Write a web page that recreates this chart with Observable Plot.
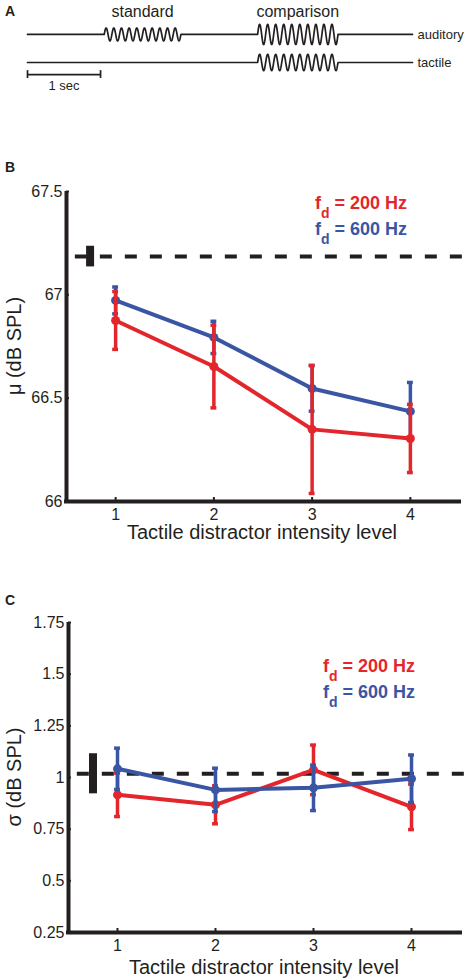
<!DOCTYPE html>
<html><head><meta charset="utf-8">
<script src="https://cdn.jsdelivr.net/npm/d3@7"></script>
<script src="https://cdn.jsdelivr.net/npm/@observablehq/plot@0.6"></script>
<style>
body{margin:0;background:#fff;}
#root{position:relative;width:471px;height:980px;overflow:hidden;font-family:"Liberation Sans",Arial,Helvetica,sans-serif;color:#231f20;background:#fff;}
.panel{position:absolute;left:0;}
.plab{position:absolute;font-weight:bold;font-size:14px;line-height:14px;}
.leg{position:absolute;font-weight:bold;font-size:18px;line-height:25px;white-space:nowrap;}
.leg .sub{position:relative;top:9px;font-size:14px;}
.xt{position:absolute;font-size:20px;line-height:20px;white-space:nowrap;transform:translateX(-50%);}
.yt{position:absolute;font-size:20px;line-height:20px;white-space:nowrap;transform:translate(-50%,-50%) rotate(-90deg);}
</style></head>
<body>
<div id="root"></div>
<script>
// ---------- Panel A: stimulus schematic ----------
const totalDuration = 5.27;              // seconds
const trackNames = ["auditory", "tactile"];
const trackLevels = [1, 0];
const burstTrack = ["auditory", "auditory", "tactile"];
const burstStart = [1.05, 3.15, 3.15];
const burstEnd = [2.10, 4.25, 4.25];
const burstCycles = [10, 10, 10];
const burstAmp = [0.23, 0.36, 0.29];
const burstLabels = ["standard", "comparison"];
const scaleBarSec = [0, 1];
const scaleBarLabel = "1 sec";
const scaleBarLevel = -0.43;

// ---------- Panels B and C: data ----------
const levels = [1, 2, 3, 4];
const muRed = [66.876, 66.653, 66.349, 66.305];
const muRedErr = [0.14, 0.20, 0.31, 0.165];
const muBlue = [66.973, 66.794, 66.547, 66.436];
const muBlueErr = [0.065, 0.078, 0.11, 0.14];
const sigmaRed = [0.916, 0.868, 1.037, 0.858];
const sigmaRedErr = [0.105, 0.092, 0.12, 0.11];
const sigmaBlue = [1.042, 0.94, 0.95, 0.994];
const sigmaBlueErr = [0.10, 0.105, 0.11, 0.115];
const muRef = 67.185, muRefErr = 0.05, muRefX = 0.74;
const sigmaRef = 1.018, sigmaRefErr = 0.097, sigmaRefX = 0.75;
const muTicks = [66, 66.5, 67, 67.5];
const sigmaTicks = [0.25, 0.5, 0.75, 1, 1.25, 1.5, 1.75];
const RED = "#e3262c", BLUE = "#3a55a4", INK = "#231f20";

const root = document.getElementById("root");
const FONT = '"Liberation Sans", Arial, Helvetica, sans-serif';

function place(el, top) {
  const d = document.createElement("div");
  d.className = "panel";
  d.style.top = top + "px";
  d.appendChild(el);
  root.appendChild(d);
}
function html(cls, style, inner) {
  const d = document.createElement("div");
  d.className = cls;
  d.setAttribute("style", style);
  d.innerHTML = inner;
  root.appendChild(d);
}

// waveform samples (schematic)
const wave = [];
trackNames.forEach((name, i) => {
  const n = 2400;
  for (let k = 0; k <= n; k++) {
    const t = totalDuration * k / n;
    let v = trackLevels[i];
    burstTrack.forEach((bt, j) => {
      if (bt === name && t >= burstStart[j] && t <= burstEnd[j]) {
        v += burstAmp[j] * Math.sin(2 * Math.PI * burstCycles[j] * (t - burstStart[j]) / (burstEnd[j] - burstStart[j]));
      }
    });
    wave.push({name, t, v});
  }
});

const plotA = Plot.plot({
  width: 471, height: 92,
  marginLeft: 27, marginRight: 59, marginTop: 0, marginBottom: 0,
  x: {domain: [0, totalDuration], axis: null},
  y: {domain: [-1.07, 2.21], axis: null},
  style: {fontFamily: FONT, color: INK, background: "transparent", overflow: "visible"},
  marks: [
    Plot.line(wave, {x: "t", y: "v", z: "name", stroke: INK, strokeWidth: 1.7}),
    Plot.text(trackNames, {x: () => totalDuration, y: (d, i) => trackLevels[i], text: d => d, dx: 5, textAnchor: "start", fontSize: 13, fill: INK}),
    Plot.text(burstLabels, {x: (d, i) => (burstStart[i] + burstEnd[i]) / 2, frameAnchor: "top", dy: 11, lineAnchor: "middle", text: d => d, fontSize: 16, fill: INK}),
    Plot.ruleY([scaleBarLevel], {x1: scaleBarSec[0], x2: scaleBarSec[1], stroke: INK, strokeWidth: 1.7}),
    Plot.ruleX(scaleBarSec, {y1: scaleBarLevel - 0.14, y2: scaleBarLevel + 0.14, stroke: INK, strokeWidth: 1.7}),
    Plot.text([scaleBarLabel], {x: (scaleBarSec[0] + scaleBarSec[1]) / 2, y: () => scaleBarLevel, dy: 11, lineAnchor: "middle", text: d => d, fontSize: 13, fill: INK})
  ]
});
place(plotA, 0);

function makeSeries(vals, errs, color) {
  return levels.map((x, i) => ({x, y: vals[i], lo: vals[i] - errs[i], hi: vals[i] + errs[i], color}));
}

function panel({top, height, mL, mR, mT, mB, yDomain, yTicks, ref, refErr, refX, series}) {
  const span = yDomain[1] - yDomain[0];
  const marks = [
    Plot.ruleY([ref], {x1: 0.59, x2: 4.54, stroke: INK, strokeWidth: 4, strokeDasharray: "12,13"}),
    Plot.ruleX([refX], {y1: ref - refErr, y2: ref + refErr, stroke: INK, strokeWidth: 8})
  ];
  for (const s of series) {
    marks.push(
      Plot.ruleX(s, {x: "x", y1: "lo", y2: "hi", stroke: "color", strokeWidth: 3.5}),
      Plot.ruleY(s, {y: "lo", x1: d => d.x - 0.03, x2: d => d.x + 0.03, stroke: "color", strokeWidth: 3.5}),
      Plot.ruleY(s, {y: "hi", x1: d => d.x - 0.03, x2: d => d.x + 0.03, stroke: "color", strokeWidth: 3.5}),
      Plot.line(s, {x: "x", y: "y", stroke: "color", strokeWidth: 4}),
      Plot.dot(s, {x: "x", y: "y", fill: "color", r: 4.5})
    );
  }
  marks.push(
    Plot.ruleX([0.5], {stroke: INK, strokeWidth: 4}),
    Plot.ruleY([yDomain[0]], {stroke: INK, strokeWidth: 4, strokeLinecap: "square"}),
    Plot.ruleY(yTicks, {x1: 0.5, x2: 0.53, stroke: INK, strokeWidth: 2}),
    Plot.ruleX(levels, {y1: yDomain[0], y2: yDomain[0] + span * 0.013, stroke: INK, strokeWidth: 2}),
    Plot.axisY({ticks: yTicks, tickFormat: d => String(d), tickSize: 0, tickPadding: 4, fontSize: 16, label: null, fill: INK}),
    Plot.axisX({ticks: levels, tickFormat: d => String(d), tickSize: 0, tickPadding: 7, fontSize: 16, label: null, fill: INK})
  );
  const p = Plot.plot({
    width: 471, height,
    marginLeft: mL, marginRight: mR, marginTop: mT, marginBottom: mB,
    x: {domain: [0.5, 4.5]},
    y: {domain: yDomain},
    color: {type: "identity"},
    style: {fontFamily: FONT, color: INK, background: "transparent", overflow: "visible"},
    marks
  });
  place(p, top);
}

panel({
  top: 130, height: 420, mL: 66, mR: 12, mT: 61, mB: 49,
  yDomain: [66, 67.5], yTicks: muTicks,
  ref: muRef, refErr: muRefErr, refX: muRefX,
  series: [makeSeries(muBlue, muBlueErr, BLUE), makeSeries(muRed, muRedErr, RED)]
});
panel({
  top: 560, height: 420, mL: 68, mR: 11, mT: 62, mB: 48,
  yDomain: [0.25, 1.75], yTicks: sigmaTicks,
  ref: sigmaRef, refErr: sigmaRefErr, refX: sigmaRefX,
  series: [makeSeries(sigmaRed, sigmaRedErr, RED), makeSeries(sigmaBlue, sigmaBlueErr, BLUE)]
});

// labels
html("plab", "left:5px;top:4px;", "A");
html("plab", "left:5px;top:160px;", "B");
html("plab", "left:5px;top:593px;", "C");
const legend = (left, top) => html("leg", `left:${left}px;top:${top}px;`,
  `<div style="color:${RED}">f<span class="sub">d</span> = 200 Hz</div><div style="color:${BLUE}">f<span class="sub">d</span> = 600 Hz</div>`);
legend(315, 191);
legend(323, 654);
html("xt", "left:262px;top:522px;", "Tactile distractor intensity level");
html("xt", "left:264px;top:957px;", "Tactile distractor intensity level");
html("yt", "left:14px;top:346px;", "μ (dB SPL)");
html("yt", "left:14px;top:777px;", "σ (dB SPL)");
</script>
</body></html>
